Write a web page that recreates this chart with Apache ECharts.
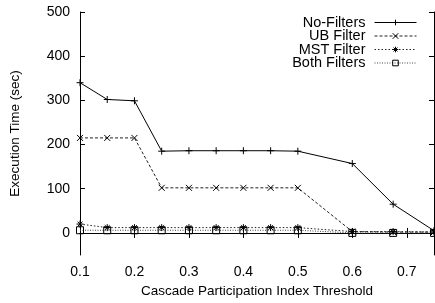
<!DOCTYPE html>
<html>
<head>
<meta charset="utf-8">
<script src="https://cdn.jsdelivr.net/npm/echarts@6/dist/echarts.min.js"></script>
<style>html,body{margin:0;padding:0;background:#fff}#main{width:435px;height:303px}</style>
</head>
<body>
<div id="main"></div>
<script>
var thresholds = [0.1, 0.15, 0.2, 0.25, 0.3, 0.35, 0.4, 0.45, 0.5, 0.6, 0.675, 0.75];
var noFilters = [340, 302, 299, 185, 186, 186, 186, 186, 185, 157, 65, 5];
var ubFilter = [215, 215, 215, 102, 102, 102, 102, 102, 102, 3, 2, 2];
var mstFilter = [20, 12, 12, 12, 12, 12, 12, 12, 12, 3, 3, 2];
var bothFilters = [6, 6, 6, 6, 6, 6, 6, 6, 6, 0, 0, 0];
var yTicks = [0, 100, 200, 300, 400, 500];
var xTicks = [0.1, 0.2, 0.3, 0.4, 0.5, 0.6, 0.7];

var myChart = echarts.init(document.getElementById('main'));

function pairs(vals) {
    return vals.map(function (v, i) { return [thresholds[i], v]; });
}

var font = 'Liberation Sans, Arial, sans-serif';
var markers = {
    plus: 'path://M0,5L10,5M5,0L5,10',
    cross: 'path://M0,0L10,10M10,0L0,10',
    star: 'path://M0,5L10,5M5,0L5,10M1.5,1.5L8.5,8.5M8.5,1.5L1.5,8.5',
    square: 'path://M0,0L10,0L10,10L0,10Z'
};

function line(name, vals, symbol, size, type, color) {
    return {
        name: name,
        type: 'line',
        data: pairs(vals),
        symbol: symbol,
        symbolSize: size,
        lineStyle: { color: color, width: 1, type: type },
        itemStyle: { color: 'none', borderColor: '#000', borderWidth: 1 },
        emphasis: { disabled: true },
        animation: false
    };
}

var tick = function (vals) {
    return { inside: true, length: 5, lineStyle: { color: '#000' }, customValues: vals };
};
var label = function (vals) {
    return { color: '#000', fontSize: 14, fontFamily: font, margin: 10, customValues: vals };
};
var axisLine = { lineStyle: { color: '#000', width: 1 } };
var nameStyle = { color: '#000', fontSize: 13.5, fontFamily: font };

var option = {
    backgroundColor: '#fff',
    grid: { left: 76, right: 1, top: 12, bottom: 48 },
    legend: {
        orient: 'vertical',
        right: 18,
        top: 15,
        padding: 0,
        align: 'right',
        itemWidth: 42,
        itemHeight: 7,
        itemGap: -1.5,
        lineStyle: { width: 1 },
        itemStyle: { color: 'none', borderColor: '#000', borderWidth: 1 },
        textStyle: { color: '#000', fontSize: 14.5, fontFamily: font, padding: [0, 4, 0, 0] },
        data: ['No-Filters', 'UB Filter', 'MST Filter', 'Both Filters']
    },
    xAxis: [{
        type: 'value', min: 0.1, max: 0.75,
        name: 'Cascade Participation Index Threshold',
        nameLocation: 'middle', nameGap: 26,
        nameTextStyle: nameStyle,
        axisLine: axisLine,
        axisTick: tick(xTicks),
        axisLabel: label(xTicks),
        splitLine: { show: false }
    }, {
        type: 'value', min: 0.1, max: 0.75, position: 'top',
        axisLine: axisLine,
        axisTick: tick(xTicks),
        axisLabel: { show: false },
        splitLine: { show: false }
    }],
    yAxis: [{
        type: 'value', min: -50, max: 500,
        name: 'Execution Time (sec)',
        nameLocation: 'middle', nameGap: 58,
        nameTextStyle: nameStyle,
        axisLine: axisLine,
        axisTick: tick(yTicks),
        axisLabel: label(yTicks),
        splitLine: { show: false }
    }, {
        type: 'value', min: -50, max: 500, position: 'right',
        axisLine: axisLine,
        axisTick: tick(yTicks),
        axisLabel: { show: false },
        splitLine: { show: false }
    }],
    series: [
        line('No-Filters', noFilters, markers.plus, 7, 'solid', '#000'),
        line('UB Filter', ubFilter, markers.cross, 6, [3, 2], '#222'),
        line('MST Filter', mstFilter, markers.star, 7, [1.5, 2], '#222'),
        line('Both Filters', bothFilters, markers.square, 7, [1, 1.5], '#444')
    ]
};

myChart.setOption(option);
</script>
</body>
</html>
